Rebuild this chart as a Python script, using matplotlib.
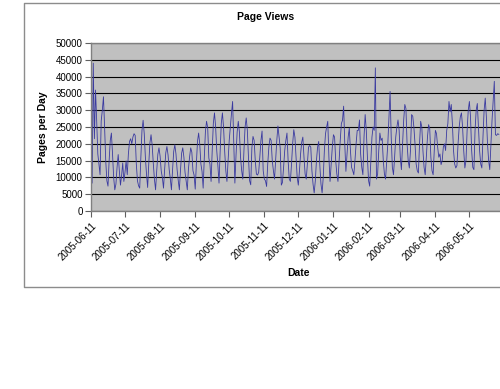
import pandas as pd
import matplotlib
matplotlib.use("Agg")
import matplotlib.pyplot as plt
from matplotlib.lines import Line2D

plt.rcParams['font.family'] = ['Liberation Sans', 'DejaVu Sans']

# daily page views, starting 2005-06-11 (one row per week, Sat..Fri)
start_date = '2005-06-11'
views = [
    13800, 8300, 44000, 21500, 36000, 27000, 17000,
    14000, 10800, 26800, 30000, 34000, 25000, 15000,
    9000, 7400, 15000, 21000, 23200, 17000, 10000,
    6300, 8000, 13000, 16800, 12000, 7700, 10500,
    14300, 8800, 11500, 14900, 10800, 17000, 20700,
    21500, 20000, 22000, 23000, 22500, 14000, 9000,
    7500, 6800, 15900, 24000, 27000, 23000, 16000,
    10900, 7000, 14100, 20300, 22700, 19600, 14100,
    9400, 6300, 11900, 16900, 18800, 16300, 11900,
    9900, 6800, 12400, 17300, 19200, 16700, 12400,
    9600, 6300, 12300, 17700, 19700, 17000, 12300,
    9100, 6300, 12200, 17200, 18800, 16000, 11500,
    9000, 6300, 12500, 16000, 18800, 17500, 12000,
    10700, 6500, 14000, 20700, 23200, 19900, 14000,
    11800, 6800, 15800, 23700, 26700, 24800, 15800,
    13900, 8800, 18000, 26100, 29200, 25100, 18000,
    13500, 8300, 17700, 26100, 29200, 25000, 17700,
    12000, 8800, 15000, 21000, 25000, 29000, 32600,
    21000, 8300, 16500, 23500, 26700, 23500, 16000,
    12000, 9500, 18000, 25000, 27700, 24000, 16000,
    9000, 7800, 18800, 22200, 21000, 15000, 11000,
    10700, 11500, 16000, 21000, 23800, 12000, 9500,
    9000, 7300, 14000, 19000, 21700, 21000, 15000,
    12000, 9500, 15000, 21000, 25300, 22000, 18800,
    7700, 8500, 13000, 18000, 21000, 23200, 15000,
    9500, 8800, 14000, 20000, 24200, 22000, 16000,
    10000, 7700, 12000, 17000, 20500, 22000, 16000,
    11000, 9500, 14000, 19000, 19500, 19000, 12000,
    8000, 5400, 9000, 15000, 19000, 20700, 13500,
    8000, 5400, 10000, 18000, 23000, 25000, 26700,
    16000, 8800, 14000, 19000, 22700, 22000, 15000,
    11000, 8800, 15000, 21000, 26000, 27000, 31200,
    20000, 11800, 17000, 22000, 24700, 18000, 13000,
    12000, 10800, 15000, 20000, 24000, 24000, 27100,
    17000, 13000, 10800, 22000, 28700, 24000, 16000,
    9000, 7400, 15000, 22000, 25000, 24000, 42600,
    9500, 11000, 18000, 23200, 21000, 21700, 15000,
    11000, 9500, 15000, 20000, 28000, 35600, 22000,
    13000, 10800, 16000, 22000, 25000, 27100, 24000,
    16000, 12300, 20000, 27000, 31700, 30500, 20000,
    15000, 12800, 18000, 28700, 28200, 25000, 20000,
    14000, 12000, 11300, 20000, 26700, 25000, 18000,
    13000, 10800, 16000, 22000, 25700, 24500, 16000,
    12000, 10800, 18000, 24000, 23000, 19000, 16000,
    17000, 13800, 15000, 19000, 20000, 18000, 24000,
    26000, 32600, 29500, 31700, 26000, 18000, 14000,
    12800, 13500, 20000, 25000, 28000, 29200, 25000,
    18000, 12800, 15000, 24000, 30000, 32600, 28000,
    18000, 13000, 12300, 24000, 30000, 32000, 25000,
    18000, 14000, 12800, 22000, 30000, 33600, 28000,
    20000, 15000, 12300, 20000, 27000, 33000, 38600,
    22700, 22500, 23000, 22800,
]
tick_labels = ['2005-06-11', '2005-07-11', '2005-08-11', '2005-09-11',
               '2005-10-11', '2005-11-11', '2005-12-11', '2006-01-11',
               '2006-02-11', '2006-03-11', '2006-04-11', '2006-05-11']

dates = pd.date_range(start_date, periods=len(views), freq='D')

W, H = 500, 389
fig = plt.figure(figsize=(W / 100, H / 100), dpi=100)
fig.patch.set_facecolor('white')

# chart area frame: top, left, bottom only (it runs off the right edge)
L, R, T, B = 23.5 / W, 1.0, 1 - 2.5 / H, 1 - 286.5 / H
frame = dict(transform=fig.transFigure, color='#8c8c8c', lw=1.0)
fig.lines.append(Line2D([R, L, L, R], [T, T, B, B], **frame))

ax = fig.add_axes([91 / W, 1 - 211 / H, 413.5 / W, 168 / H])
ax.set_facecolor('#c0c0c0')
for s in ax.spines.values():
    s.set_color('#808080')
    s.set_linewidth(1.0)
ax.spines['right'].set_visible(False)

ax.plot(dates, views, color='#3a3aa0', lw=0.6)

ax.set_ylim(0, 50000)
ax.set_yticks(range(0, 50001, 5000))
ax.grid(True, axis='y', color='black', lw=0.8)
ax.set_axisbelow(True)

ax.set_xlim(pd.Timestamp('2005-06-11'), pd.Timestamp('2006-06-11'))
ax.set_xticks(pd.to_datetime(tick_labels))
ax.set_xticklabels(tick_labels, rotation=45, ha='right', va='top',
                   rotation_mode='anchor', fontsize=7)
ax.tick_params(axis='both', direction='out', length=4, width=0.8,
               color='#606060', labelsize=7, pad=2)
ax.tick_params(axis='x', pad=3)

fig.text(266 / W, 1 - 17 / H, 'Page Views', ha='center', va='center',
         fontsize=7.5, fontweight='bold')
fig.text(43 / W, 1 - 127 / H, 'Pages per Day', ha='center', va='center',
         rotation=90, fontsize=7.5, fontweight='bold')
fig.text(298 / W, 1 - 273 / H, 'Date', ha='center', va='center',
         fontsize=7.5, fontweight='bold')

fig.savefig('out.png', dpi=100)
